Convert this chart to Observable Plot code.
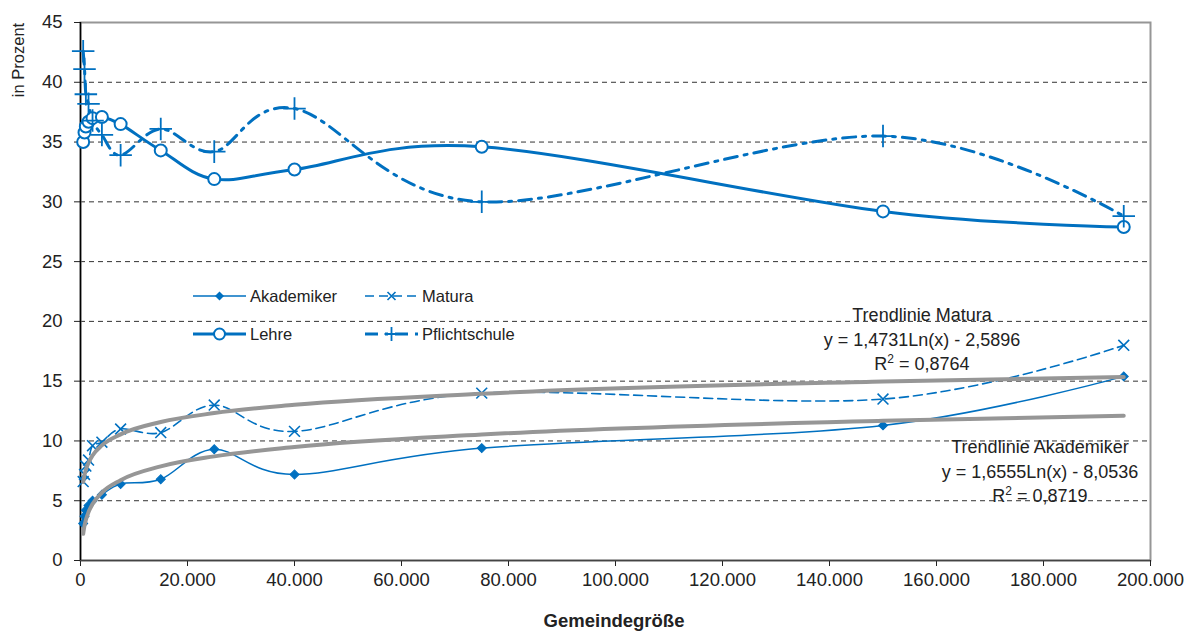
<!DOCTYPE html>
<html>
<head>
<meta charset="utf-8">
<script src="https://cdn.jsdelivr.net/npm/d3@7"></script>
<script src="https://cdn.jsdelivr.net/npm/@observablehq/plot@0.6"></script>
<style>
  body { margin: 0; background: #fff; }
  #wrap { position: relative; width: 1190px; height: 633px; font-family: "Liberation Sans", Arial, sans-serif; color: #222; }
  .ann { position: absolute; text-align: center; font-size: 18px; line-height: 24.5px; white-space: nowrap; color: #222; }
  .ann sup { font-size: 12px; vertical-align: 7px; line-height: 0; }
  #ylab { position: absolute; left: 18px; top: 60px; transform: translate(-50%, -50%) rotate(-90deg); font-size: 16.5px; white-space: nowrap; }
  #xlab { position: absolute; left: 614px; top: 621px; transform: translate(-50%, -50%); font-size: 18.5px; font-weight: bold; white-space: nowrap; }
  #legend { position: absolute; left: 0; top: 0; pointer-events: none; }
</style>
</head>
<body>
<div id="wrap"></div>
<script>
// ---- data ----
const gemeindegroesse = [500, 750, 1000, 1500, 2250, 4000, 7500, 15000, 25000, 40000, 75000, 150000, 195000];
const akademiker    = [3.1, 3.7, 4.2, 4.6, 5.0, 5.5, 6.4, 6.8, 9.3, 7.2, 9.4, 11.3, 15.4];
const matura        = [6.6, 7.2, 7.9, 8.4, 9.6, 9.9, 11.0, 10.7, 13.0, 10.8, 14.0, 13.5, 18.0];
const lehre         = [35.0, 35.8, 36.3, 36.7, 37.0, 37.1, 36.5, 34.3, 31.9, 32.7, 34.6, 29.2, 27.9];
const pflichtschule = [42.6, 41.1, 39.0, 38.2, 36.8, 35.6, 33.9, 36.1, 34.2, 37.8, 30.0, 35.5, 28.8];
const trendMatura     = [6.57, 7.16, 7.59, 8.18, 8.78, 9.63, 10.55, 11.58, 12.33, 13.02, 13.95, 14.97, 15.35];
const trendAkademiker = [2.23, 2.91, 3.38, 4.05, 4.72, 5.68, 6.72, 7.87, 8.71, 9.49, 10.53, 11.68, 12.11];
const xTicks = [0, 20000, 40000, 60000, 80000, 100000, 120000, 140000, 160000, 180000, 200000];
const yTicks = [0, 5, 10, 15, 20, 25, 30, 35, 40, 45];
const seriesNames = ["Akademiker", "Matura", "Lehre", "Pflichtschule"];
const trendTexts = {
  matura: ["Trendlinie Matura", "y = 1,4731Ln(x) - 2,5896", "0,8764"],
  akademiker: ["Trendlinie Akademiker", "y = 1,6555Ln(x) - 8,0536", "0,8719"]
};

const blue = "#0070c0";
const gray = "#969696";
const rows = gemeindegroesse.map((x, i) => ({
  x, akademiker: akademiker[i], matura: matura[i], lehre: lehre[i], pflichtschule: pflichtschule[i],
  trendM: trendMatura[i], trendA: trendAkademiker[i]
}));
const fmt = d => d3.format(",")(d).replace(/,/g, ".");

const chart = Plot.plot({
  width: 1190, height: 633,
  marginLeft: 80, marginRight: 40, marginTop: 22, marginBottom: 73,
  style: { fontFamily: "Liberation Sans, Arial, sans-serif", fontSize: "18.5px", color: "#222", background: "#fff" },
  x: { domain: [0, 200000] },
  y: { domain: [0, 45] },
  marks: [
    Plot.gridY(yTicks.filter(d => d > 0 && d < 45), { stroke: "#333", strokeOpacity: 1, strokeDasharray: "5,4", strokeWidth: 1 }),
    Plot.frame({ stroke: gray, strokeWidth: 2 }),
    Plot.axisY({ ticks: yTicks, tickSize: 6, tickPadding: 12, label: null, stroke: "#222" }),
    Plot.axisX({ ticks: xTicks, tickFormat: fmt, tickSize: 6, tickPadding: 6, label: null, stroke: "#222" }),
    Plot.ruleY([0], { stroke: "#444", strokeWidth: 1.5 }),
    Plot.ruleX([0], { stroke: "#000", strokeWidth: 1.5 }),
    // series
    Plot.line(rows, { x: "x", y: "akademiker", stroke: blue, strokeWidth: 1.5, curve: "cardinal" }),
    Plot.line(rows, { x: "x", y: "matura", stroke: blue, strokeWidth: 1.6, strokeDasharray: "9,5", curve: "cardinal" }),
    Plot.line(rows, { x: "x", y: "lehre", stroke: blue, strokeWidth: 3, curve: "cardinal" }),
    Plot.line(rows, { x: "x", y: "pflichtschule", stroke: blue, strokeWidth: 3, strokeDasharray: "13,7,3,7", curve: "cardinal" }),
    Plot.dot(rows, { x: "x", y: "akademiker", symbol: "square", rotate: 45, r: 3.6, fill: blue, stroke: blue, strokeWidth: 1 }),
    Plot.dot(rows, { x: "x", y: "matura", symbol: "times", r: 5, stroke: blue, strokeWidth: 1.6 }),
    Plot.dot(rows, { x: "x", y: "lehre", symbol: "circle", r: 6, fill: "#fff", stroke: blue, strokeWidth: 2 }),
    Plot.dot(rows, { x: "x", y: "pflichtschule", symbol: "plus", r: 7.3, stroke: blue, strokeWidth: 1.8 }),
    // trend lines
    Plot.line(rows, { x: "x", y: "trendM", stroke: gray, strokeWidth: 4, curve: "monotone-x" }),
    Plot.line(rows, { x: "x", y: "trendA", stroke: gray, strokeWidth: 4, curve: "monotone-x" })
  ]
});

const wrap = document.getElementById("wrap");
wrap.appendChild(chart);

// axis titles
const ylab = document.createElement("div"); ylab.id = "ylab"; ylab.textContent = "in Prozent"; wrap.appendChild(ylab);
const xlab = document.createElement("div"); xlab.id = "xlab"; xlab.textContent = "Gemeindegröße"; wrap.appendChild(xlab);

// trend annotations
function addAnn(lines, cx, top) {
  const d = document.createElement("div");
  d.className = "ann";
  d.style.left = (cx - 150) + "px"; d.style.width = "300px"; d.style.top = top + "px";
  d.innerHTML = lines[0] + "<br>" + lines[1] + "<br>R<sup>2</sup> = " + lines[2];
  wrap.appendChild(d);
}
addAnn(trendTexts.matura, 922, 303);
addAnn(trendTexts.akademiker, 1040, 435);

// legend
const leg = d3.select(wrap).append("svg").attr("id", "legend").attr("width", 1190).attr("height", 633);
const items = [
  { name: seriesNames[0], x: 193, y: 296, sw: 1.5, dash: null, sym: "diamond" },
  { name: seriesNames[1], x: 365, y: 296, sw: 1.6, dash: "9,5", sym: "times" },
  { name: seriesNames[2], x: 193, y: 334, sw: 3, dash: null, sym: "circle" },
  { name: seriesNames[3], x: 365, y: 334, sw: 3, dash: "13,7,3,7", sym: "plus" }
];
items.forEach(it => {
  const g = leg.append("g");
  g.append("line").attr("x1", it.x).attr("x2", it.x + 53).attr("y1", it.y).attr("y2", it.y)
    .attr("stroke", blue).attr("stroke-width", it.sw).attr("stroke-dasharray", it.dash);
  const cx = it.x + 26.5;
  if (it.sym === "diamond") {
    g.append("path").attr("d", d3.symbol(d3.symbolSquare, 40)()).attr("transform", `translate(${cx},${it.y}) rotate(45)`).attr("fill", blue);
  } else if (it.sym === "times") {
    g.append("path").attr("d", `M-4,-4L4,4M-4,4L4,-4`).attr("transform", `translate(${cx},${it.y})`).attr("stroke", blue).attr("stroke-width", 1.6);
  } else if (it.sym === "circle") {
    g.append("circle").attr("cx", cx).attr("cy", it.y).attr("r", 5.5).attr("fill", "#fff").attr("stroke", blue).attr("stroke-width", 2);
  } else {
    g.append("path").attr("d", `M-7,0L7,0M0,-7L0,7`).attr("transform", `translate(${cx},${it.y})`).attr("stroke", blue).attr("stroke-width", 1.8);
  }
  g.append("text").attr("x", it.x + 57).attr("y", it.y).attr("dy", "0.35em")
    .attr("font-family", "Liberation Sans, Arial, sans-serif").attr("font-size", 16.5).attr("fill", "#222").text(it.name);
});
</script>
</body>
</html>
